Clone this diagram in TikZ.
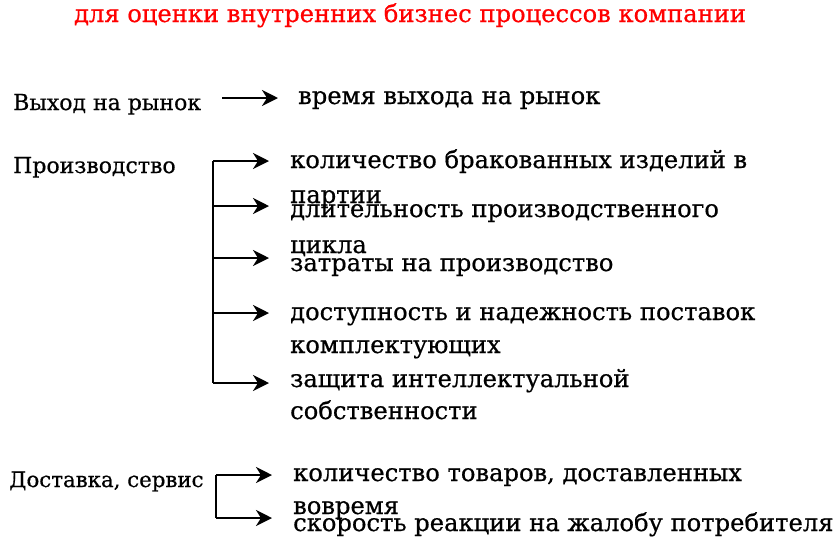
\documentclass[tikz,border=0pt]{standalone}
\usepackage{fontspec}
\setmainfont{DejaVu Serif}
\newfontfamily\txtfont{DejaVu Serif}[FakeBold=0.6]
\usetikzlibrary{arrows.meta}
\tikzset{
  lbl/.style={anchor=base west, inner sep=0pt, font=\txtfont\fontsize{22}{26}\selectfont},
  itm/.style={anchor=base west, inner sep=0pt, font=\txtfont\fontsize{24.2}{30}\selectfont},
  arr/.style={line width=2.2pt, -{Stealth[length=16pt,width=16pt,inset=5pt]}},
  spine/.style={line width=2.2pt},
  ttl/.style={anchor=base, inner sep=0pt, text=red, font=\txtfont\fontsize{24.2}{28}\selectfont}
}
\begin{document}
\begin{tikzpicture}[x=1pt,y=-1pt]
\useasboundingbox (0,0) rectangle (836,547);
% title
\node[ttl] (title) at (410,22) {для оценки внутренних бизнес процессов компании};
% row 1
\node[lbl] (vyhod) at (13,110) {Выход на рынок};
\node[itm] (vremya) at (298,104) {время выхода на рынок};
\coordinate (a0s) at (222,98);
\coordinate (a0e) at (278,98);
\draw[arr] (a0s) -- (a0e);
% production
\node[lbl] (proizv) at (13,173) {Производство};
\node[itm] (i1) at (290,168) {количество бракованных изделий в};
\node[itm] (i1b) at (290,203) {партии};
\node[itm] (i2) at (290,217) {длительность производственного};
\node[itm] (i2b) at (290,253) {цикла};
\node[itm] (i3) at (290,271) {затраты на производство};
\node[itm] (i4) at (290,320) {доступность и надежность поставок};
\node[itm] (i4b) at (290,353) {комплектующих};
\node[itm] (i5) at (290,387) {защита интеллектуальной};
\node[itm] (i5b) at (290,419) {собственности};
\coordinate (p1) at (213,161);
\coordinate (p2) at (213,206);
\coordinate (p3) at (213,258);
\coordinate (p4) at (213,313);
\coordinate (p5) at (213,383);
\draw[spine] (p1) -- (p5);
\foreach \k in {1,...,5}{
  \draw[arr] (p\k) -- ++(56,0) coordinate (t\k);
}
% delivery
\node[lbl,font=\txtfont\fontsize{21.3}{26}\selectfont] (dost) at (9,487) {Доставка, сервис};
\node[itm] (d1) at (293,481) {количество товаров, доставленных};
\node[itm] (d1b) at (293,514) {вовремя};
\node[itm] (d2) at (293,531) {скорость реакции на жалобу потребителя};
\coordinate (q1) at (216,475);
\coordinate (q2) at (216,518);
\draw[spine] (q1) -- (q2);
\draw[arr] (q1) -- ++(56,0) coordinate (u1);
\draw[arr] (q2) -- ++(56,0) coordinate (u2);
\end{tikzpicture}
\end{document}
